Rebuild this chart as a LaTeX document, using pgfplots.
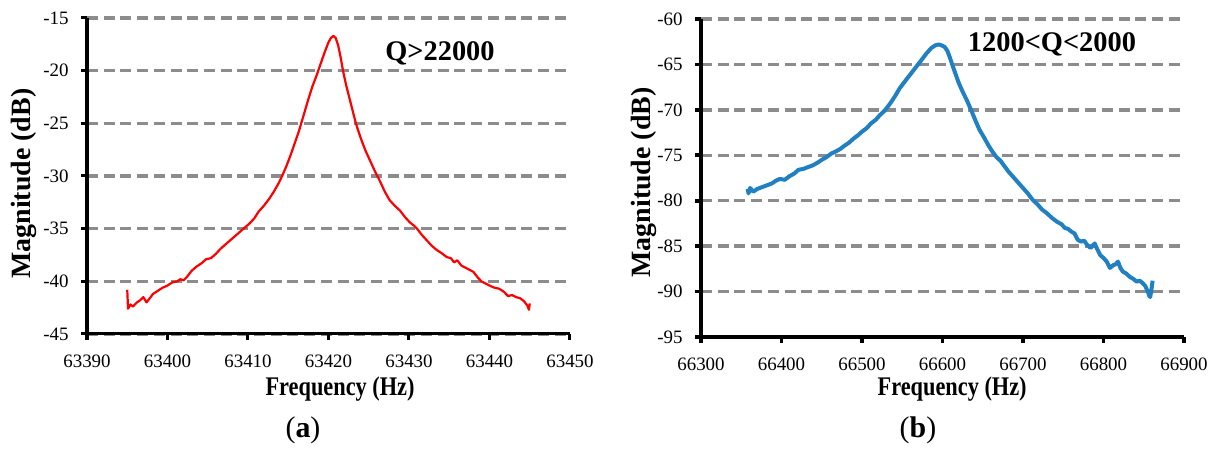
\documentclass[border=0pt]{standalone}
\usepackage{pgfplots}
\pgfplotsset{compat=1.18}
\usepackage{fontspec}
\setmainfont{Liberation Serif}
\usepackage{graphicx}

\definecolor{gridgray}{RGB}{140,140,140}
\definecolor{curvered}{RGB}{255,0,0}
\definecolor{curveblue}{RGB}{33,128,194}

\pgfplotsset{
  resp/.style={
    scale only axis,
    width=483bp,
    axis x line=bottom,
    axis y line=left,
    axis line style={-, line width=3bp, black},
    tick style={line width=3bp, black},
    major tick length=6bp,
    tick align=outside,
    ymajorgrids,
    major grid style={gridgray, line width=3.3bp, dash pattern=on 11bp off 5.7bp},
    scaled x ticks=false,
    /pgf/number format/assume math mode=true,
    /pgf/number format/1000 sep={},
    ticklabel style={font=\fontsize{19}{22}\selectfont},
    xticklabel style={yshift=-11bp},
    yticklabel style={xshift=-9bp},
    xlabel style={font=\fontsize{27}{30}\selectfont\bfseries, anchor=center},
    ylabel style={font=\fontsize{28}{32}\selectfont\bfseries, anchor=center},
    xlabel={\scalebox{0.83}[1]{Frequency (Hz)}},
    ylabel={Magnitude (dB)},
    clip=false,
  }
}

\begin{document}
\begin{tikzpicture}
\useasboundingbox (0,0) rectangle (1221bp,450bp);

% (a) high-Q resonance
\begin{axis}[resp,
  at={(87bp,116bp)}, anchor=south west,
  height=316bp,
  xmin=63390, xmax=63450, xtick={63390,63400,...,63450},
  ymin=-45, ymax=-15, ytick={-45,-40,...,-15},
  xlabel style={at={(axis description cs:0.524,-0.174)}},
  ylabel style={at={(axis description cs:-0.1315,0.476)}},
]
\addplot[curvered, line width=2.2bp, line join=round] coordinates {
(63395.0,-40.8) (63395.1,-42.6) (63395.4,-42.2) (63395.7,-42.4) (63396.2,-42.0)
(63396.6,-41.8) (63397.0,-41.5) (63397.4,-42.0) (63397.8,-41.6) (63398.2,-41.2)
(63398.8,-40.9) (63399.4,-40.6) (63400.0,-40.4) (63400.6,-40.1) (63401.2,-40.0)
(63401.6,-39.8) (63402.0,-39.9) (63402.4,-39.6) (63403.0,-39.0) (63403.6,-38.6)
(63404.2,-38.3) (63404.8,-37.9) (63405.4,-37.8) (63406.0,-37.4) (63406.6,-36.9)
(63407.2,-36.5) (63407.8,-36.1) (63408.4,-35.7) (63409.0,-35.3) (63409.6,-34.9)
(63410.2,-34.5) (63410.8,-34.0) (63411.3,-33.4) (63412.0,-32.8) (63412.6,-32.2)
(63413.2,-31.5) (63413.8,-30.7) (63414.3,-29.9) (63414.8,-29.0) (63415.3,-28.0)
(63415.8,-26.9) (63416.3,-25.8) (63417.0,-24.0) (63417.5,-22.7) (63418.0,-21.5)
(63418.5,-20.5) (63419.0,-19.4) (63419.5,-18.3) (63420.0,-17.3) (63420.3,-16.9)
(63420.6,-16.7) (63420.9,-16.9) (63421.2,-17.6) (63421.5,-18.7) (63421.8,-20.0)
(63422.2,-21.4) (63422.6,-22.6) (63423.0,-23.8) (63423.4,-25.0) (63424.0,-26.4)
(63424.6,-27.6) (63425.2,-28.6) (63425.8,-29.6) (63426.4,-30.5) (63427.0,-31.5)
(63427.6,-32.3) (63428.2,-32.8) (63428.9,-33.3) (63429.5,-33.9) (63430.1,-34.4)
(63430.6,-34.7) (63431.0,-35.0) (63431.6,-35.6) (63432.2,-36.1) (63432.8,-36.6)
(63433.4,-37.0) (63434.0,-37.3) (63434.7,-37.7) (63435.2,-37.8) (63435.6,-38.2)
(63436.0,-38.0) (63436.5,-38.5) (63437.0,-38.7) (63437.5,-38.9) (63438.0,-39.1)
(63438.5,-39.6) (63439.0,-40.0) (63439.5,-40.2) (63440.0,-40.4) (63440.6,-40.6)
(63441.2,-40.7) (63441.8,-41.0) (63442.3,-41.4) (63442.8,-41.3) (63443.3,-41.5)
(63443.8,-41.6) (63444.3,-41.9) (63444.7,-42.3) (63444.9,-42.7) (63445.0,-42.1)
};
\node[font=\fontsize{28.5}{32}\selectfont\bfseries, anchor=base]
  at (axis cs:63433.85,-18.99) {Q>22000};
\end{axis}

% (b) low-Q resonance
\begin{axis}[resp,
  at={(701bp,113bp)}, anchor=south west,
  height=318bp,
  axis line style={line width=3.8bp},
  tick style={line width=3.8bp},
  xmin=66300, xmax=66900, xtick={66300,66400,...,66900},
  ymin=-95, ymax=-60, ytick={-95,-90,...,-60},
  xlabel style={at={(axis description cs:0.52,-0.1635)}},
  ylabel style={at={(axis description cs:-0.119,0.486)}},
]
\addplot[curveblue, line width=4bp, line join=round] coordinates {
(66358,-78.7) (66359,-79.2) (66361,-78.6) (66365,-79.0) (66370,-78.7)
(66376,-78.5) (66382,-78.3) (66388,-78.1) (66393,-77.8) (66398,-77.6)
(66404,-77.7) (66410,-77.3) (66416,-77.0) (66421,-76.6) (66427,-76.5)
(66433,-76.3) (66439,-76.1) (66445,-75.8) (66450,-75.5) (66456,-75.2)
(66462,-74.8) (66467,-74.6) (66473,-74.3) (66479,-73.9) (66484,-73.6)
(66489,-73.2) (66495,-72.8) (66500,-72.4) (66506,-72.0) (66511,-71.5)
(66517,-71.1) (66522,-70.6) (66528,-70.1) (66535,-69.3) (66541,-68.5)
(66547,-67.6) (66553,-66.9) (66560,-66.1) (66567,-65.3) (66574,-64.5)
(66580,-63.8) (66586,-63.2) (66591,-62.9) (66595,-62.8) (66599,-62.9)
(66603,-63.1) (66606,-63.5) (66609,-64.2) (66612,-65.0) (66616,-66.0)
(66620,-67.0) (66625,-68.0) (66630,-68.9) (66636,-70.1) (66641,-71.2)
(66646,-72.2) (66652,-73.1) (66657,-73.9) (66662,-74.6) (66667,-75.2)
(66672,-75.6) (66677,-76.2) (66682,-76.8) (66688,-77.4) (66694,-78.0)
(66700,-78.6) (66706,-79.2) (66712,-79.9) (66718,-80.4) (66724,-81.0)
(66730,-81.4) (66736,-81.9) (66742,-82.3) (66748,-82.6) (66752,-83.0)
(66756,-83.1) (66760,-83.4) (66764,-83.6) (66768,-84.3) (66772,-84.5)
(66776,-84.4) (66780,-84.9) (66784,-85.2) (66789,-84.7) (66792,-85.3)
(66796,-86.0) (66800,-86.3) (66804,-86.7) (66808,-87.4) (66812,-87.1)
(66815,-87.0) (66818,-86.7) (66821,-87.4) (66824,-87.8) (66828,-88.0)
(66833,-88.4) (66837,-88.6) (66841,-88.9) (66845,-88.8) (66849,-89.1)
(66852,-89.4) (66855,-90.0) (66857,-90.5) (66858,-90.6) (66860,-89.5)
(66861,-88.8)
};
\node[font=\fontsize{28.5}{32}\selectfont\bfseries, anchor=base]
  at (axis cs:66736,-63.63) {1200<Q<2000};
\end{axis}

% panel captions
\node[font=\fontsize{30}{34}\selectfont] at (303bp,20bp) {(\textbf{a})};
\node[font=\fontsize{30}{34}\selectfont] at (918bp,20bp) {(\textbf{b})};
\end{tikzpicture}
\end{document}
